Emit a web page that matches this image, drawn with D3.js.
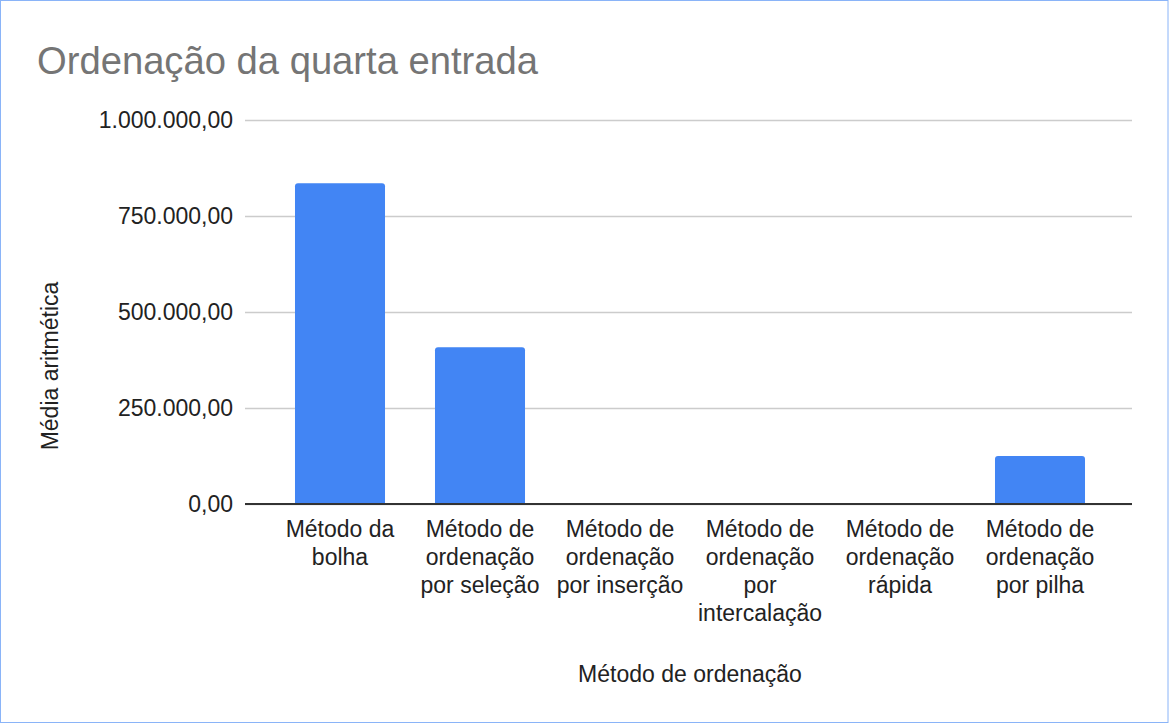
<!DOCTYPE html>
<html><head><meta charset="utf-8">
<script src="https://cdn.jsdelivr.net/npm/d3@7"></script>
<style>
html,body{margin:0;padding:0;background:#fff;}
svg{display:block;font-family:"Liberation Sans",Arial,sans-serif;}
</style></head>
<body>
<svg id="c" width="1169" height="724"></svg>
<script>
const chartTitle = "Ordenação da quarta entrada";
const xAxisTitle = "Método de ordenação";
const yAxisTitle = "Média aritmética";
const categories = [
  "Método da\nbolha",
  "Método de\nordenação\npor seleção",
  "Método de\nordenação\npor inserção",
  "Método de\nordenação\npor\nintercalação",
  "Método de\nordenação\nrápida",
  "Método de\nordenação\npor pilha"
];
const values = [835000, 408000, 300, 150, 120, 125000];
const yTicks = [0, 250000, 500000, 750000, 1000000];

(function(){
const svg = d3.select("#c");
const W = 1169, H = 724;
svg.append("rect").attr("x",0.5).attr("y",0.5).attr("width",W-1.5).attr("height",H-2)
  .attr("fill","#fff").attr("stroke","#8ab4f8").attr("stroke-width",1);

const pLeft = 245, pRight = 1132, pTop = 120, pBottom = 504;
const y = d3.scaleLinear().domain([0,1000000]).range([pBottom, pTop]);
const x = d3.scaleBand().domain(categories).range([270, 1110]).paddingInner(0.357).paddingOuter(0.1785);

const fmt = v => {
  const s = d3.format(",.2f")(v);
  return s.replace(/,/g,"#").replace(/\./g,",").replace(/#/g,".");
};

const yAxis = d3.axisLeft(y).tickValues(yTicks).tickSize(-(pRight-pLeft)).tickFormat(fmt).tickPadding(14);
const gy = svg.append("g").attr("transform",`translate(${pLeft},0)`).call(yAxis);
gy.select(".domain").remove();
gy.selectAll(".tick line").attr("stroke","#cccccc").attr("stroke-width",1.3);
gy.selectAll(".tick text").attr("fill","#222").attr("font-size",23).attr("x",-12).attr("dy","0.34em").attr("font-family","Liberation Sans, Arial, sans-serif");

const r = 3;
svg.append("g").selectAll("path").data(categories).join("path")
  .attr("fill","#4285f4")
  .attr("d",(c,i)=>{
    const x0 = x(c), w = x.bandwidth(), y0 = y(values[i]), h = pBottom - y0;
    if (h <= 0) return "";
    const rr = Math.min(r, h/2, w/2);
    return `M${x0},${pBottom}V${y0+rr}Q${x0},${y0} ${x0+rr},${y0}H${x0+w-rr}Q${x0+w},${y0} ${x0+w},${y0+rr}V${pBottom}Z`;
  });

svg.append("line").attr("x1",pLeft).attr("x2",pRight).attr("y1",y(0)).attr("y2",y(0))
  .attr("stroke","#333").attr("stroke-width",2);

const gx = svg.append("g");
categories.forEach(c=>{
  const lines = c.split("\n");
  const t = gx.append("text").attr("text-anchor","middle").attr("font-size",23).attr("fill","#222");
  lines.forEach((l,j)=>{
    t.append("tspan").attr("x", x(c)+x.bandwidth()/2).attr("y", 537 + j*28).text(l);
  });
});

svg.append("text").attr("x",37).attr("y",74).attr("font-size",38.2).attr("fill","#757575").text(chartTitle);
svg.append("text").attr("x",690).attr("y",682).attr("text-anchor","middle").attr("font-size",23).attr("fill","#222").text(xAxisTitle);
svg.append("text").attr("transform",`translate(58,366) rotate(-90)`).attr("text-anchor","middle").attr("font-size",23).attr("fill","#222").text(yAxisTitle);
})();
</script>
</body></html>
